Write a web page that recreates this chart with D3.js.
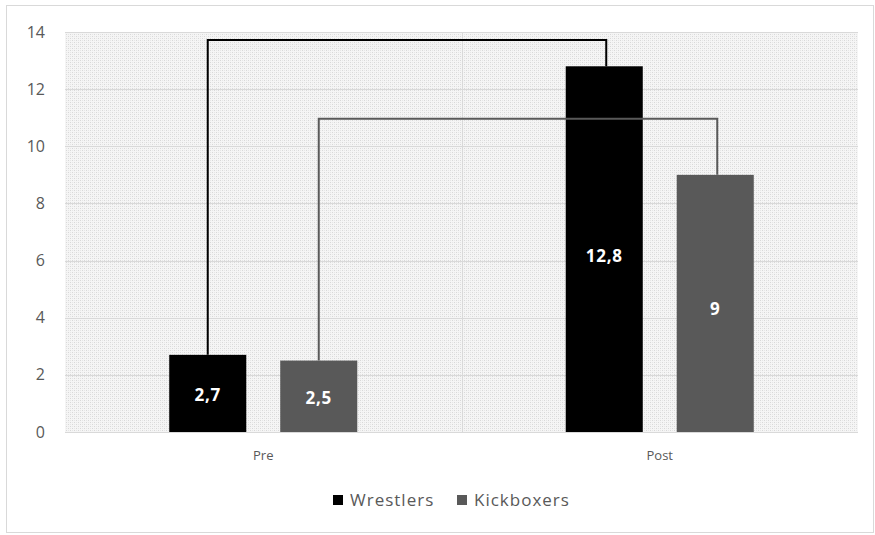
<!DOCTYPE html>
<html>
<head>
<meta charset="utf-8">
<script src="https://cdn.jsdelivr.net/npm/d3@7"></script>
<style>
  html, body { margin: 0; padding: 0; background: #fff; }
  svg { display: block; font-family: "Open Sans", "Liberation Sans", sans-serif; }
</style>
</head>
<body>
<svg id="chart" width="875" height="535"></svg>
<script>
const categories = ["Pre", "Post"];
const seriesNames = ["Wrestlers", "Kickboxers"];
const wrestlers = [2.7, 12.8];
const kickboxers = [2.5, 9];
const valueLabels = { Wrestlers: ["2,7", "12,8"], Kickboxers: ["2,5", "9"] };
const bracketLevels = [13.72, 10.96]; // Wrestlers, Kickboxers
const yTicks = [0, 2, 4, 6, 8, 10, 12, 14];
const colors = ["#000000", "#595959"];

const svg = d3.select("#chart");
const plot = { left: 65, right: 858, top: 32, bottom: 432 };

// outer border
svg.append("rect").attr("x", 6.5).attr("y", 5.5).attr("width", 867).attr("height", 527)
  .attr("fill", "#fff").attr("stroke", "#d9d9d9").attr("stroke-width", 1);

// pattern
const defs = svg.append("defs");
const pat = defs.append("pattern").attr("id", "dots").attr("width", 4).attr("height", 4)
  .attr("patternUnits", "userSpaceOnUse");
pat.append("rect").attr("width", 4).attr("height", 4).attr("fill", "#f5f5f5");
pat.append("rect").attr("x", 0).attr("y", 0).attr("width", 1).attr("height", 1).attr("fill", "#d8d8d8");
pat.append("rect").attr("x", 2).attr("y", 2).attr("width", 1).attr("height", 1).attr("fill", "#d8d8d8");
pat.append("rect").attr("x", 2).attr("y", 0).attr("width", 1).attr("height", 1).attr("fill", "#e6e6e6");
pat.append("rect").attr("x", 0).attr("y", 2).attr("width", 1).attr("height", 1).attr("fill", "#e6e6e6");

const y = d3.scaleLinear().domain([0, 14]).range([plot.bottom, plot.top]);
const x0 = d3.scaleBand().domain(categories).range([plot.left, plot.right]).paddingInner(0).paddingOuter(0);
const x1 = d3.scaleBand().domain(seriesNames).range([0, x0.bandwidth()]).paddingInner(0.306).paddingOuter(0.939);

svg.append("rect").attr("x", plot.left).attr("y", plot.top)
  .attr("width", plot.right - plot.left).attr("height", plot.bottom - plot.top)
  .attr("fill", "url(#dots)");

// gridlines
svg.append("g").selectAll("line").data(yTicks).join("line")
  .attr("x1", plot.left).attr("x2", plot.right)
  .attr("y1", d => Math.round(y(d)) + 0.5).attr("y2", d => Math.round(y(d)) + 0.5)
  .attr("stroke", "#d9d9d9").attr("stroke-width", 1.2);
// vertical category separator
svg.append("line")
  .attr("x1", Math.round(x0("Post")) + 0.5).attr("x2", Math.round(x0("Post")) + 0.5)
  .attr("y1", plot.top).attr("y2", plot.bottom)
  .attr("stroke", "#d9d9d9").attr("stroke-width", 1);

// y axis
const yAxis = d3.axisLeft(y).tickValues(yTicks).tickSize(0).tickPadding(0);
const gy = svg.append("g").attr("transform", `translate(${plot.left - 20},0)`).call(yAxis);
gy.select(".domain").remove();
gy.selectAll("text").attr("fill", "#595959").style("font-size", "16px")
  .style("font-family", "'Open Sans', sans-serif");

// x axis labels
const xAxis = d3.axisBottom(x0).tickSize(0).tickPadding(0);
const gx = svg.append("g").attr("transform", `translate(0,${plot.bottom + 19})`).call(xAxis);
gx.select(".domain").remove();
gx.selectAll("text").attr("fill", "#595959").style("font-size", "13px")
  .style("font-family", "'Open Sans', sans-serif");

// bars
const series = [wrestlers, kickboxers];
const rows = [];
categories.forEach((c, i) => seriesNames.forEach((s, j) => rows.push({ c, s, j, v: series[j][i], label: valueLabels[s][i] })));

svg.append("g").selectAll("rect").data(rows).join("rect")
  .attr("x", d => x0(d.c) + x1(d.s))
  .attr("y", d => y(d.v))
  .attr("width", x1.bandwidth())
  .attr("height", d => y(0) - y(d.v))
  .attr("fill", d => colors[d.j]);

// brackets
const line = d3.line();
seriesNames.forEach((s, j) => {
  const xa = x0(categories[0]) + x1(s) + x1.bandwidth() / 2;
  const xb = x0(categories[1]) + x1(s) + x1.bandwidth() / 2 + 2;
  const pts = [[xa, y(series[j][0])], [xa, y(bracketLevels[j])], [xb, y(bracketLevels[j])], [xb, y(series[j][1])]];
  svg.append("path").attr("d", line(pts)).attr("fill", "none")
    .attr("stroke", colors[j]).attr("stroke-width", 2);
});

// value labels
svg.append("g").selectAll("text").data(rows).join("text")
  .attr("x", d => x0(d.c) + x1(d.s) + x1.bandwidth() / 2)
  .attr("y", d => y(d.v * 0.48))
  .attr("dy", "0.35em")
  .attr("text-anchor", "middle")
  .attr("fill", "#fff")
  .style("font-size", "17px").style("font-weight", "bold").style("letter-spacing", "0.8px")
  .text(d => d.label);

// legend
const legend = svg.append("g").attr("transform", "translate(333,500)");
const legX = [0, 124];
seriesNames.forEach((s, j) => {
  const g = legend.append("g").attr("transform", `translate(${legX[j]},0)`);
  g.append("rect").attr("x", 0).attr("y", -5).attr("width", 10).attr("height", 10).attr("fill", colors[j]);
  g.append("text").attr("x", 17).attr("y", 0).attr("dy", "0.35em")
    .attr("fill", "#595959").style("font-size", "17px").style("letter-spacing", "1px").text(s);
});
</script>
</body>
</html>
